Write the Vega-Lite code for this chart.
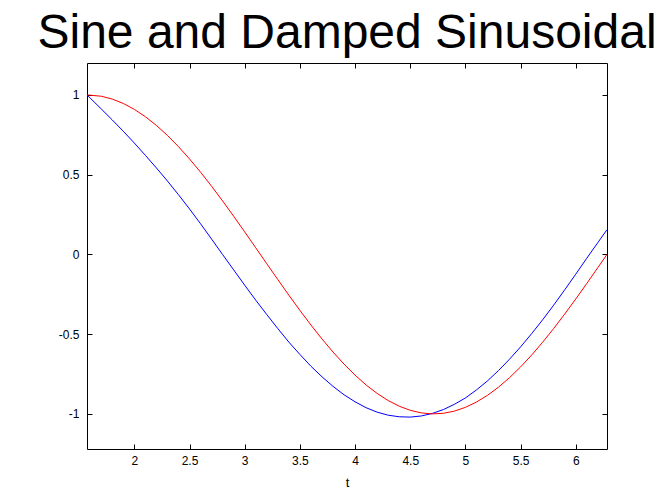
{
  "$schema": "https://vega.github.io/schema/vega-lite/v6.json",
  "width": 520,
  "height": 386,
  "autosize": {"type": "none"},
  "padding": {"left": 87, "top": 63, "right": 65, "bottom": 55},
  "background": "white",
  "title": {"text": "Sine and Damped Sinusoidal", "fontSize": 48, "font": "Liberation Sans", "fontWeight": "normal", "color": "black", "anchor": "middle", "offset": 5},
  "config": {
    "view": {"stroke": "black", "strokeWidth": 1},
    "axis": {"grid": false, "domain": false, "tickColor": "black", "tickSize": -5, "tickWidth": 1, "labelFont": "Liberation Sans", "labelFontSize": 12, "labelColor": "black", "titleFont": "Liberation Sans", "titleFontSize": 13, "titleFontWeight": "normal", "titleColor": "black"}
  },
  "data": {"values": [
    {"t": 1.5708, "sine": 1.0, "damped": 1.0},
    {"t": 1.7, "sine": 0.9917, "damped": 0.912},
    {"t": 1.8, "sine": 0.9738, "damped": 0.843},
    {"t": 1.9, "sine": 0.9463, "damped": 0.772},
    {"t": 2.0, "sine": 0.9093, "damped": 0.698},
    {"t": 2.1, "sine": 0.8632, "damped": 0.621},
    {"t": 2.2, "sine": 0.8085, "damped": 0.542},
    {"t": 2.3, "sine": 0.7457, "damped": 0.46},
    {"t": 2.4, "sine": 0.6755, "damped": 0.374},
    {"t": 2.5, "sine": 0.5985, "damped": 0.285},
    {"t": 2.6, "sine": 0.5155, "damped": 0.192},
    {"t": 2.7, "sine": 0.4274, "damped": 0.096},
    {"t": 2.8, "sine": 0.335, "damped": -0.001},
    {"t": 2.9, "sine": 0.2392, "damped": -0.097},
    {"t": 3.0, "sine": 0.1411, "damped": -0.193},
    {"t": 3.1, "sine": 0.0416, "damped": -0.287},
    {"t": 3.2, "sine": -0.0584, "damped": -0.377},
    {"t": 3.3, "sine": -0.1577, "damped": -0.465},
    {"t": 3.4, "sine": -0.2555, "damped": -0.55},
    {"t": 3.5, "sine": -0.3508, "damped": -0.627},
    {"t": 3.6, "sine": -0.4425, "damped": -0.701},
    {"t": 3.7, "sine": -0.5298, "damped": -0.767},
    {"t": 3.8, "sine": -0.6119, "damped": -0.827},
    {"t": 3.9, "sine": -0.6878, "damped": -0.88},
    {"t": 4.0, "sine": -0.7568, "damped": -0.924},
    {"t": 4.1, "sine": -0.8183, "damped": -0.961},
    {"t": 4.2, "sine": -0.8716, "damped": -0.989},
    {"t": 4.3, "sine": -0.9162, "damped": -1.008},
    {"t": 4.4, "sine": -0.9516, "damped": -1.018},
    {"t": 4.5, "sine": -0.9775, "damped": -1.02},
    {"t": 4.6, "sine": -0.9937, "damped": -1.013},
    {"t": 4.7, "sine": -0.9999, "damped": -0.997},
    {"t": 4.8, "sine": -0.9962, "damped": -0.973},
    {"t": 4.9, "sine": -0.9825, "damped": -0.94},
    {"t": 5.0, "sine": -0.9589, "damped": -0.9},
    {"t": 5.1, "sine": -0.9258, "damped": -0.85},
    {"t": 5.2, "sine": -0.8835, "damped": -0.793},
    {"t": 5.3, "sine": -0.8323, "damped": -0.728},
    {"t": 5.4, "sine": -0.7728, "damped": -0.657},
    {"t": 5.5, "sine": -0.7055, "damped": -0.58},
    {"t": 5.6, "sine": -0.6313, "damped": -0.497},
    {"t": 5.7, "sine": -0.5507, "damped": -0.41},
    {"t": 5.8, "sine": -0.4646, "damped": -0.318},
    {"t": 5.9, "sine": -0.3739, "damped": -0.222},
    {"t": 6.0, "sine": -0.2794, "damped": -0.124},
    {"t": 6.1, "sine": -0.1822, "damped": -0.024},
    {"t": 6.2, "sine": -0.0831, "damped": 0.074},
    {"t": 6.2832, "sine": 0.0, "damped": 0.155}
  ]},
  "transform": [{"fold": ["damped", "sine"], "as": ["series", "y"]}],
  "layer": [
    {
      "mark": {"type": "line", "strokeWidth": 1},
      "encoding": {
        "x": {"field": "t", "type": "quantitative", "scale": {"domain": [1.5708, 6.2832], "nice": false, "zero": false},
          "axis": {"orient": "bottom", "values": [2, 2.5, 3, 3.5, 4, 4.5, 5, 5.5, 6], "title": "t", "labelExpr": "datum.value + ''", "labelPadding": 11, "titlePadding": 10}},
        "y": {"field": "y", "type": "quantitative", "scale": {"domain": [-1.22, 1.2], "nice": false, "zero": false},
          "axis": {"orient": "left", "values": [-1, -0.5, 0, 0.5, 1], "title": null, "labelExpr": "datum.value + ''", "labelPadding": 13}},
        "color": {"field": "series", "type": "nominal", "scale": {"domain": ["damped", "sine"], "range": ["#0000ff", "#ff0000"]}, "legend": null}
      }
    },
    {
      "mark": {"type": "line", "opacity": 0},
      "encoding": {
        "x": {"field": "t", "type": "quantitative", "axis": {"orient": "top", "values": [2, 2.5, 3, 3.5, 4, 4.5, 5, 5.5, 6], "labels": false, "title": null}},
        "y": {"field": "y", "type": "quantitative", "axis": {"orient": "right", "values": [-1, -0.5, 0, 0.5, 1], "labels": false, "title": null}},
        "detail": {"field": "series"}
      }
    }
  ],
  "resolve": {"axis": {"x": "independent", "y": "independent"}}
}
